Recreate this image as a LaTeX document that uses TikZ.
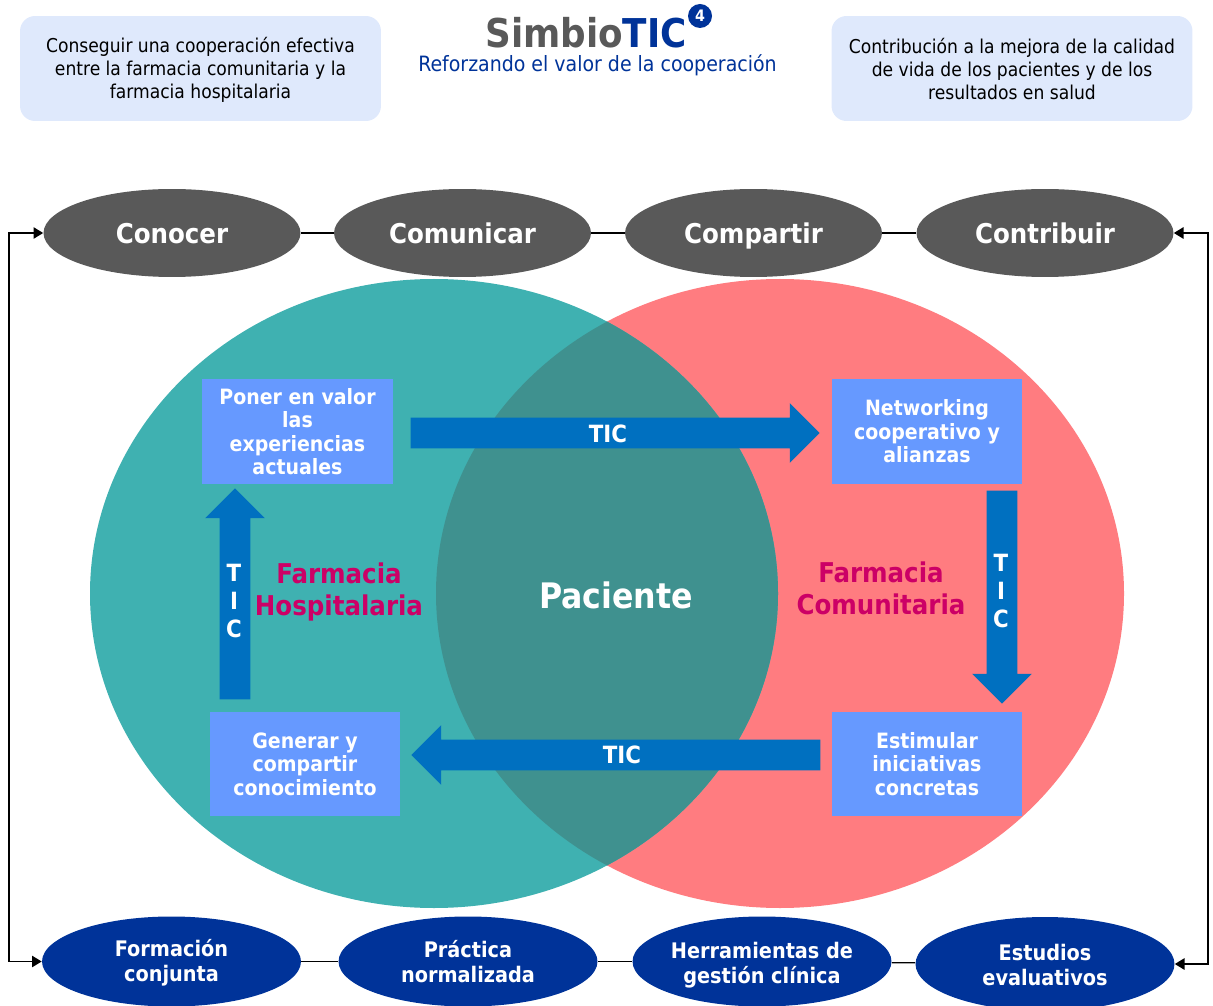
\documentclass[tikz,border=0pt]{standalone}
\usepackage{fontspec}
\setmainfont{DejaVu Sans Condensed}
\usetikzlibrary{shapes.geometric,shapes.arrows,arrows.meta}
\definecolor{topbox}{HTML}{DFE9FC}
\definecolor{grisoval}{HTML}{595959}
\definecolor{azuloval}{HTML}{003399}
\definecolor{azulbox}{HTML}{6699FF}
\definecolor{azularrow}{HTML}{0070C0}
\definecolor{tealcirc}{HTML}{3FB1B1}
\definecolor{redcirc}{HTML}{FF7C80}
\definecolor{overlapcirc}{HTML}{3F918F}
\definecolor{magenta}{HTML}{CC0066}
\tikzset{
  topnote/.style={fill=topbox,rounded corners=0.3cm,minimum width=7.22cm,minimum height=2.1cm,align=center,font=\fontsize{10.85}{13.2}\selectfont},
  oval/.style={ellipse,inner sep=-12pt,text=white,align=center},
  greyoval/.style={oval,fill=grisoval,minimum width=5.14cm,minimum height=1.76cm,text height=14pt,text depth=2pt,font=\bfseries\fontsize{15.5}{18}\selectfont},
  blueoval/.style={oval,fill=azuloval,minimum width=5.18cm,minimum height=1.8cm,font=\bfseries\fontsize{12.2}{14.3}\selectfont},
  stepbox/.style={fill=azulbox,text=white,minimum width=3.81cm,minimum height=2.09cm,inner sep=2pt,align=center,font=\bfseries\fontsize{12}{13.3}\selectfont},
  ticarrow/.style={single arrow,fill=azularrow,inner sep=0pt,text width=0.6cm,text height=0.6cm,minimum width=1.18cm,single arrow head extend=0.29cm,single arrow head indent=0cm,single arrow tip angle=90},
  ticlabel/.style={text=white,align=center,font=\bfseries\fontsize{13.5}{16}\selectfont},
  farmacia/.style={text=magenta,align=center,font=\bfseries\fontsize{15.5}{18.5}\selectfont},
  link/.style={line width=0.7pt,black},
  loopback/.style={link,{Triangle[length=5.5pt,width=6.5pt]}-{Triangle[length=5.5pt,width=6.5pt]}}
}
\begin{document}
\begin{tikzpicture}[x=0.02cm,y=-0.02cm]
\useasboundingbox (0,0) rectangle (1213,1006);
% circles
\fill[redcirc] (780,593.5) ellipse (344 and 314.5);
\fill[tealcirc] (434,593.5) ellipse (344 and 314.5);
\begin{scope}
\clip (434,593.5) ellipse (344 and 314.5);
\fill[overlapcirc] (780,593.5) ellipse (344 and 314.5);
\end{scope}
% header
\node[topnote] (objetivo) at (200.5,68.5) {\rule{0pt}{10.5pt}Conseguir una cooperación efectiva\\entre la farmacia comunitaria y la\\farmacia hospitalaria};
\node[topnote] (resultado) at (1012,68.5) {\rule{0pt}{9.4pt}Contribución a la mejora de la calidad\\de vida de los pacientes y de los\\resultados en salud};
\node[inner sep=0pt,font=\bfseries\fontsize{22.6}{24}\selectfont] (titulo) at (586,33) {\textcolor{grisoval}{Simbio}\textcolor{azuloval}{TIC}};
\node[circle,fill=azuloval,text=white,inner sep=0pt,minimum size=0.48cm,font=\bfseries\fontsize{9}{10}\selectfont] (cuatro) at (700,16) {4};
\node[text=azuloval,inner sep=0pt,font=\fontsize{12}{14}\selectfont] (lema) at (597.5,65) {Reforzando el valor de la cooperación};
% top row
\node[greyoval] (conocer) at (172,233) {Conocer};
\node[greyoval] (comunicar) at (462.5,233) {Comunicar};
\node[greyoval] (compartir) at (753.5,233) {Compartir};
\node[greyoval] (contribuir) at (1045,233) {Contribuir};
% bottom row
\node[blueoval] (formacion) at (171.5,961.5) {\rule{0pt}{11.6pt}Formación\\conjunta};
\node[blueoval] (practica) at (468,961.5) {Práctica\\normalizada};
\node[blueoval] (herramientas) at (762,961.5) {\rule{0pt}{13.9pt}Herramientas de\\gestión clínica};
\node[blueoval,minimum height=1.88cm] (estudios) at (1045,964) {\rule{0pt}{10.4pt}Estudios\\evaluativos};
\draw[link] (conocer) -- (comunicar);
\draw[link] (comunicar) -- (compartir);
\draw[link] (compartir) -- (contribuir);
\draw[link] (formacion) -- (practica);
\draw[link] (practica) -- (herramientas);
\draw[link] (herramientas) -- (estudios);
\coordinate (izqa) at (9,233);
\coordinate (izqb) at (9,961.5);
\coordinate (dera) at (1208,233);
\coordinate (derb) at (1208,964);
\draw[loopback] (conocer) -- (izqa) -- (izqb) -- (formacion);
\draw[loopback] (contribuir) -- (dera) -- (derb) -- (estudios);
% steps
\node[stepbox] (poner) at (297.5,431.5) {Poner en valor\\las\\experiencias\\actuales};
\node[stepbox] (networking) at (927,431.5) {Networking\\cooperativo y\\alianzas};
\node[stepbox] (estimular) at (927,764) {Estimular\\iniciativas\\concretas};
\node[stepbox] (generar) at (305,764) {Generar y\\compartir\\conocimiento};
% arrows
\node[ticarrow,minimum height=8.18cm] (flechaa) at (607.5,433) {};
\node[ticarrow,minimum height=8.18cm,shape border rotate=180] (flechac) at (623.5,755) {};
\node[ticarrow,minimum height=4.26cm,shape border rotate=270] (flechab) at (1002,589.5) {};
\node[ticarrow,minimum height=4.22cm,shape border rotate=90] (flechad) at (235,601.5) {};
\node[ticlabel] (tica) at (608,434) {TIC};
\node[ticlabel] (ticc) at (622,755) {TIC};
\node[ticlabel] (ticb) at (1001,591) {T\\I\\C};
\node[ticlabel] (ticd) at (234,601) {T\\I\\C};
% labels
\node[farmacia] (hospitalaria) at (339,592) {Farmacia\\Hospitalaria};
\node[farmacia] (comunitaria) at (881,588.5) {Farmacia\\Comunitaria};
\node[text=white,font=\bfseries\fontsize{20}{24}\selectfont] (paciente) at (616,595) {Paciente};
\end{tikzpicture}
\end{document}
